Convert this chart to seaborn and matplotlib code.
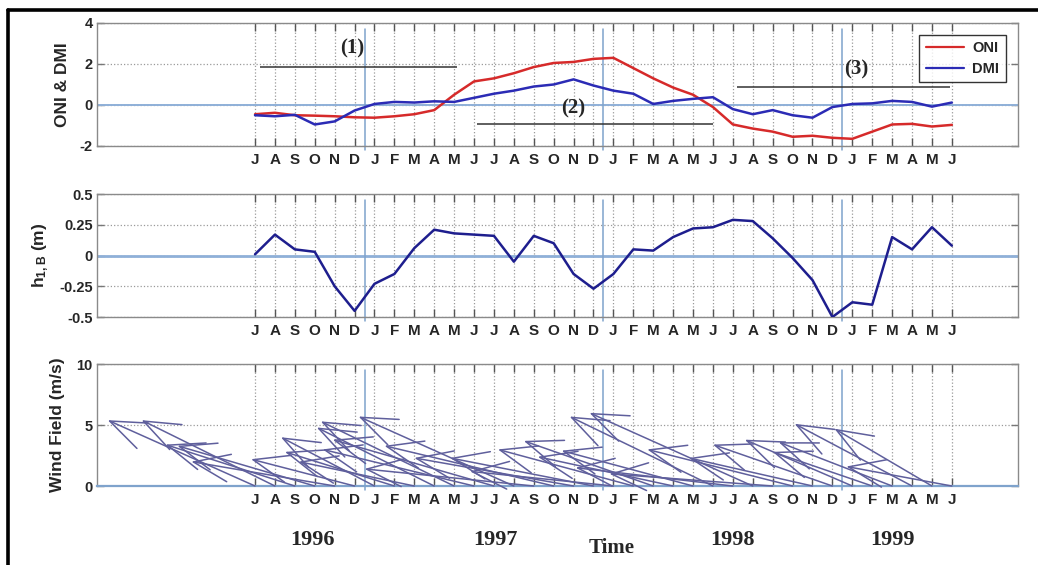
import numpy as np
import pandas as pd
import matplotlib
matplotlib.use("Agg")
import matplotlib.pyplot as plt
import matplotlib.transforms as mtransforms
from matplotlib.lines import Line2D
import seaborn as sns

# ---------------- data ----------------
month_labels = ['J', 'A', 'S', 'O', 'N', 'D', 'J', 'F', 'M', 'A', 'M', 'J'] * 3  # Jul 1996 .. Jun 1999

oni = [-0.45, -0.38, -0.5, -0.52, -0.55, -0.6, -0.62, -0.55, -0.45, -0.25, 0.5, 1.15,
       1.3, 1.55, 1.85, 2.05, 2.1, 2.25, 2.3, 1.8, 1.3, 0.85, 0.5, -0.1,
       -0.95, -1.15, -1.3, -1.55, -1.5, -1.6, -1.65, -1.3, -0.95, -0.92, -1.05, -0.97]

dmi = [-0.5, -0.55, -0.48, -0.95, -0.8, -0.27, 0.05, 0.15, 0.12, 0.18, 0.15, 0.35,
       0.55, 0.7, 0.9, 1.0, 1.25, 0.95, 0.7, 0.55, 0.05, 0.2, 0.3, 0.38,
       -0.2, -0.45, -0.25, -0.5, -0.62, -0.1, 0.05, 0.08, 0.2, 0.15, -0.08, 0.12]

h1b = [0.01, 0.17, 0.05, 0.03, -0.25, -0.45, -0.23, -0.15, 0.06, 0.21, 0.18, 0.17,
       0.16, -0.05, 0.16, 0.1, -0.15, -0.27, -0.15, 0.05, 0.04, 0.15, 0.22, 0.23,
       0.29, 0.28, 0.14, -0.02, -0.2, -0.5, -0.38, -0.4, 0.15, 0.05, 0.23, 0.08]

# wind vectors: zonal component (in month-axis units, westward) and magnitude on y axis
wind_u = [-7.4, -6.7, -6.5, -6.9, -7.2, -5.2, -4.7, -5.5, -5.8, -5.9, -6.7, -7.6,
          -8.1, -7.8, -8.5, -8.5, -8.0, -7.2, -7.2, -6.8, -6.5, -6.8, -6.6, -7.2,
          -7.9, -8.2, -8.2, -7.3, -6.2, -6.0, -5.4, -5.0, -5.7, -5.9, -4.9, -5.3]
wind_v = [5.4, 5.4, 3.4, 3.3, 2.0, 2.2, 4.0, 2.8, 2.0, 4.8, 5.3, 3.0,
          3.8, 5.7, 1.4, 3.3, 2.3, 2.3, 1.2, 3.0, 3.7, 2.4, 2.9, 5.7,
          1.5, 6.0, 1.0, 3.0, 2.3, 3.4, 3.8, 2.8, 3.6, 5.1, 4.7, 1.6]

event_labels = ['(1)', '(2)', '(3)']
event_start = [0.25, 11.15, 24.2]
event_end = [10.15, 23.0, 34.9]
event_level = [1.85, -0.95, 0.9]
event_label_x = [4.9, 16.0, 30.2]
event_label_y = [2.75, -0.15, 1.75]

year_labels = ['1996', '1997', '1998', '1999']
year_pos = [2.9, 12.05, 24.0, 32.0]

year_breaks = [5.5, 17.5, 29.5]

n = len(month_labels)
idx = np.arange(n)
df = pd.DataFrame({'t': idx, 'ONI': oni, 'DMI': dmi, 'h1b': h1b})

# ---------------- style ----------------
sns.set_style('white')
plt.rcParams['font.family'] = ['Liberation Sans', 'DejaVu Sans']
plt.rcParams['mathtext.fontset'] = 'custom'
plt.rcParams['mathtext.rm'] = 'Liberation Sans:bold'
plt.rcParams['mathtext.it'] = 'Liberation Sans:bold'
plt.rcParams['mathtext.bf'] = 'Liberation Sans:bold'

fig = plt.figure(figsize=(10.38, 5.65), dpi=100)
left, width = 0.0934, 0.8873
ax1 = fig.add_axes([left, 0.7416, width, 0.2177])
ax2 = fig.add_axes([left, 0.4389, width, 0.2177])
ax3 = fig.add_axes([left, 0.1398, width, 0.2159])

XL = (-7.94, 38.32)
grid_c = '#9a9a9a'
sep_c = '#7fa3cc'


def style(ax, yticks, yticklabels, ylim):
    ax.set_xlim(*XL)
    ax.set_ylim(*ylim)
    ax.set_xticks(idx)
    ax.set_xticklabels(month_labels, fontweight='bold', fontsize=11)
    ax.set_yticks(yticks)
    ax.set_yticklabels(yticklabels, fontweight='bold', fontsize=10.5)
    ax.tick_params(axis='x', direction='in', top=True, bottom=True, length=6,
                   width=1.0, color='#555555', pad=5)
    ax.tick_params(axis='y', direction='in', left=True, right=True, length=5,
                   width=1.0, color='#777777', pad=3)
    ax.grid(True, linestyle=':', color=grid_c, linewidth=0.9)
    for s in ax.spines.values():
        s.set_color('#8a8a8a')
        s.set_linewidth(1.0)
    for xb in year_breaks:
        ax.axvline(xb, ymin=-0.03, ymax=0.95, color=sep_c, lw=1.1, clip_on=False, zorder=1)
    ax.set_xlabel('')


# ---------- panel 1 ----------
ax1.axhline(0, color='#8fb0d8', lw=1.4, zorder=1)
sns.lineplot(data=df, x='t', y='ONI', ax=ax1, color='#d62a2a', lw=1.8, zorder=3)
sns.lineplot(data=df, x='t', y='DMI', ax=ax1, color='#2b2bb5', lw=1.8, zorder=4)
style(ax1, [-2, 0, 2, 4], ['-2', '0', '2', '4'], (-2, 4))
ax1.set_ylabel('ONI & DMI', fontweight='bold', fontsize=12.5, labelpad=7)
for lab, s, e, lv, lx, ly in zip(event_labels, event_start, event_end, event_level,
                                 event_label_x, event_label_y):
    ax1.hlines(lv, s, e, color='#333333', lw=1.1, zorder=2)
    ax1.text(lx, ly, lab, family='Liberation Serif', fontweight='bold', fontsize=15,
             ha='center', va='center', zorder=5)
handles = [Line2D([], [], color='#d62a2a', lw=1.6), Line2D([], [], color='#2b2bb5', lw=1.6)]
leg = ax1.legend(handles, ['ONI', 'DMI'], loc='upper right', bbox_to_anchor=(0.987, 0.905),
                 borderaxespad=0, frameon=True, fancybox=False, edgecolor='black',
                 prop={'weight': 'bold', 'size': 10.5}, handlelength=2.6,
                 borderpad=0.45, labelspacing=0.45, handletextpad=0.6)
leg.get_frame().set_linewidth(1.0)
leg.set_zorder(10)

# ---------- panel 2 ----------
ax2.axhline(0, color='#8fb0d8', lw=2.0, zorder=1)
sns.lineplot(data=df, x='t', y='h1b', ax=ax2, color='#1e1e8e', lw=1.8, zorder=3)
style(ax2, [-0.5, -0.25, 0, 0.25, 0.5], ['-0.5', '-0.25', '0', '0.25', '0.5'], (-0.5, 0.5))
ax2.set_ylabel(r'h$_{1,B}$ (m)', fontweight='bold', fontsize=12.5, labelpad=6)

# ---------- panel 3 ----------
style(ax3, [0, 5, 10], ['0', '5', '10'], (0, 10))
ax3.spines['bottom'].set_color(sep_c)
ax3.spines['bottom'].set_linewidth(1.6)
ax3.set_ylabel('Wind Field (m/s)', fontweight='bold', fontsize=12.5, labelpad=8)
for i in range(n):
    ax3.annotate('', xy=(i + wind_u[i], wind_v[i]), xytext=(i, 0), xycoords='data',
                 arrowprops=dict(arrowstyle='->,head_length=2.6,head_width=1.0',
                                 color='#5f5f9c', lw=1.1, shrinkA=0, shrinkB=0),
                 annotation_clip=False, zorder=3)

# ---------- year / time labels ----------
trans = mtransforms.blended_transform_factory(ax3.transData, fig.transFigure)
for lab, xp in zip(year_labels, year_pos):
    ax3.text(xp, 0.044, lab, transform=trans, family='Liberation Serif', fontweight='bold',
             fontsize=16, ha='center', va='center')
ax3.text(17.9, 0.030, 'Time', transform=trans, family='Liberation Serif', fontweight='bold',
         fontsize=15, ha='center', va='center')

# ---------- outer frame (top and left) ----------
fig.add_artist(Line2D([0.0077, 1.0], [0.982, 0.982], transform=fig.transFigure,
                      color='black', lw=2.6))
fig.add_artist(Line2D([0.0077, 0.0077], [0.0, 0.982], transform=fig.transFigure,
                      color='black', lw=2.6))

fig.savefig('out.png', dpi=100)
